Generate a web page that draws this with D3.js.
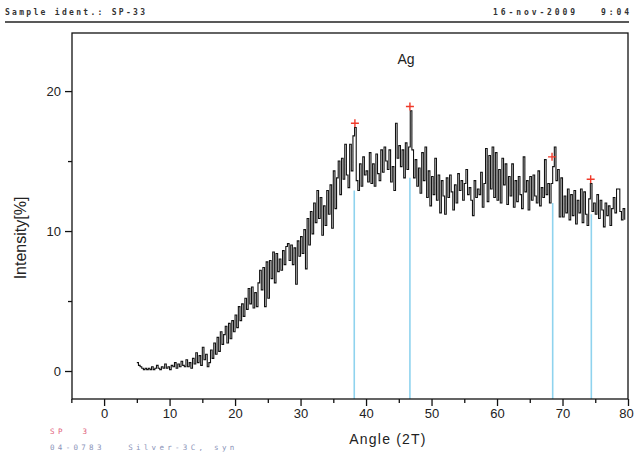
<!DOCTYPE html>
<html>
<head>
<meta charset="utf-8">
<script src="https://cdnjs.cloudflare.com/ajax/libs/d3/7.8.5/d3.min.js"></script>
<style>
  body { margin: 0; background: #fff; }
  svg { display: block; }
  text { white-space: pre; }
</style>
</head>
<body>
<svg id="chart"></svg>
<script>
const width = 634;
const height = 452;
const margin = { top: 33, right: 6, bottom: 53, left: 72 };

// scan: start angle, step and intensity values
const startAngle = 5;
const step = 0.25;
const intensity = [
  0.6, 0.4, 0.3, 0.2,   0.1, 0.2, 0.1, 0.2,   0.1, 0.3, 0.1, 0.2,   0.4, 0.2, 0.1, 0.3,
  0.2, 0.5, 0.2, 0.3,   0.1, 0.4, 0.3, 0.6,   0.2, 0.5, 0.3, 0.7,   0.4, 0.3, 0.8, 0.3,
  0.6, 0.2, 0.9, 0.5,   1.3, 0.6, 1.1, 0.4,   1.7, 0.8, 1.2, 0.3,   0.6, 1.5, 0.9, 2.0,
  1.2, 2.4, 1.4, 2.8,   1.9, 2.6, 3.2, 2.0,   3.4, 2.3, 3.6, 2.8,   4.0, 3.1, 4.6, 3.6,
  4.8, 3.9, 5.2, 4.4,   5.9, 4.8, 6.0, 4.5,   5.6, 4.6, 6.3, 7.2,   5.8, 7.4, 4.6, 7.8,
  5.2, 7.9, 6.6, 8.5,   6.3, 8.4, 7.1, 8.0,   7.2, 8.6, 7.6, 8.9,   9.1, 7.9, 9.0, 7.6,
  8.8, 6.2, 9.3, 8.2,   9.6, 8.4, 10.1, 7.3,  10.9, 9.0, 11.4, 9.8, 12.0, 10.6, 12.9, 10.9,
  12.4, 9.7, 11.8, 10.4, 12.9, 11.2, 13.3, 10.2, 14.3, 11.6, 13.8, 15.0, 12.6, 15.2, 13.7, 16.2,
  14.0, 13.1, 16.2, 14.3, 16.8, 17.4, 13.6, 12.9, 14.8, 13.2, 15.3, 14.0, 14.3, 13.5, 15.6, 13.4,
  14.8, 13.2, 15.5, 14.1, 13.6, 15.8, 14.2, 16.0, 15.0, 14.4, 15.8, 13.5, 14.6, 12.9, 17.7, 15.2,
  16.1, 14.6, 15.8, 13.8, 16.3, 14.4, 16.0, 18.6, 15.8, 13.8, 15.1, 13.2, 14.5, 12.7, 15.6, 13.6,
  16.0, 12.4, 14.3, 11.8, 13.9, 12.6, 15.2, 12.2, 14.0, 11.3, 13.6, 12.5, 11.2, 13.8, 12.4, 14.0,
  12.8, 11.5, 13.3, 12.0, 14.1, 12.9, 13.6, 12.2, 13.4, 14.4, 12.6, 13.1, 12.2, 11.1, 13.6, 12.4,
  13.0, 12.6, 14.2, 11.7, 13.4, 15.9, 12.1, 15.4, 13.0, 16.0, 12.4, 15.6, 12.2, 14.4, 12.0, 15.2,
  13.3, 14.8, 11.9, 13.9, 12.5, 14.8, 11.7, 13.6, 12.1, 13.9, 12.6, 11.6, 15.3, 12.8, 13.6, 11.5,
  13.9, 12.2, 14.0, 12.5, 12.0, 14.3, 11.8, 13.1, 12.4, 15.1, 12.6, 13.4, 12.0, 13.4, 14.6, 16.0,
  13.6, 14.4, 11.0, 13.8, 11.0, 12.5, 11.3, 13.0, 10.8, 12.6, 11.1, 12.9, 10.5, 12.2, 11.3, 13.0,
  10.6, 12.8, 11.2, 10.4, 12.3, 13.4, 11.4, 12.0, 11.2, 12.6, 10.9, 12.2, 11.5, 10.3, 12.0, 11.1,
  11.8, 10.4, 11.6, 12.4, 11.3, 13.0, 13.0, 11.4, 10.8, 11.6, 10.8
];

// identified peaks (red crosses) and reference sticks (blue lines)
const peakAngles = [38.3, 46.7, 68.4, 74.3];
const peakHeights = [17.7, 18.9, 15.3, 13.7];
const stickAngles = [38.2, 46.7, 68.5, 74.4];
const stickTops = [12.9, 13.8, 12.0, 11.2];

const xTicks = [0, 10, 20, 30, 40, 50, 60, 70, 80];
const xMinor = [-5, 5, 15, 25, 35, 45, 55, 65, 75];
const yTicks = [0, 10, 20];
const yMinor = [5, 15];

const scan = intensity.map((v, i) => ({ angle: startAngle + i * step, value: v }));

const innerW = width - margin.left - margin.right;
const innerH = height - margin.top - margin.bottom;

const svg = d3.select("#chart")
  .attr("width", width)
  .attr("height", height);

const g = svg.append("g")
  .attr("transform", "translate(" + margin.left + "," + margin.top + ")");

const xScale = d3.scaleLinear().domain([-4.9, 80]).range([0, innerW]);
const yScale = d3.scaleLinear().domain([-2.0, 24.15]).range([innerH, 0]);

const mono = "DejaVu Sans Mono, monospace";
const sans = "Liberation Sans, Arial, sans-serif";

// header
svg.append("text")
  .attr("x", 5).attr("y", 15)
  .style("font-family", mono).style("font-size", "8px")
  .style("font-weight", "bold").style("letter-spacing", "2.3px").style("fill", "#333")
  .text("Sample ident.: SP-33");
svg.append("text")
  .attr("x", 632).attr("y", 15).attr("text-anchor", "end")
  .style("font-family", mono).style("font-size", "8px")
  .style("font-weight", "bold").style("letter-spacing", "2.9px").style("fill", "#333")
  .text("16-nov-2009   9:04");
svg.append("line")
  .attr("x1", 5).attr("x2", 629).attr("y1", 22).attr("y2", 22)
  .attr("stroke", "#222").attr("stroke-width", 1.6);

// reference sticks
g.selectAll(".stick")
  .data(stickAngles)
  .enter()
  .append("line")
  .attr("class", "stick")
  .attr("x1", d => xScale(d)).attr("x2", d => xScale(d))
  .attr("y1", innerH)
  .attr("y2", (d, i) => yScale(stickTops[i]))
  .attr("stroke", "#8fd3ee").attr("stroke-width", 1.6);

// the scan
const line = d3.line()
  .x(d => xScale(d.angle))
  .y(d => yScale(d.value))
  .curve(d3.curveStepAfter);

g.append("path")
  .datum(scan)
  .attr("fill", "none")
  .attr("stroke", "#111")
  .attr("stroke-width", 1.1)
  .attr("d", line);

// peak markers
g.selectAll(".peak")
  .data(peakAngles)
  .enter()
  .append("path")
  .attr("class", "peak")
  .attr("d", (d, i) => {
    const cx = xScale(d), cy = yScale(peakHeights[i]);
    return "M" + (cx - 4) + "," + cy + "H" + (cx + 4) + "M" + cx + "," + (cy - 4) + "V" + (cy + 4);
  })
  .attr("stroke", "#f03a2a").attr("stroke-width", 1.4);

// frame
g.append("rect")
  .attr("width", innerW).attr("height", innerH)
  .attr("fill", "none").attr("stroke", "#111").attr("stroke-width", 1.3);

// axes
const xAxis = d3.axisBottom(xScale).tickValues(xTicks).tickSize(7).tickPadding(3);
const xAxisMinor = d3.axisBottom(xScale).tickValues(xMinor).tickSize(4).tickFormat("");
const yAxis = d3.axisLeft(yScale).tickValues(yTicks).tickSize(7).tickPadding(4);
const yAxisMinor = d3.axisLeft(yScale).tickValues(yMinor).tickSize(4).tickFormat("");

function styleAxis(sel) {
  sel.select(".domain").remove();
  sel.selectAll("line").attr("stroke", "#111").attr("stroke-width", 1.3);
  sel.selectAll("text")
    .style("font-family", sans)
    .style("font-size", "13px").style("fill", "#222");
}

const xg = g.append("g").attr("transform", "translate(0," + innerH + ")").call(xAxis).call(styleAxis);
xg.selectAll(".tick").filter(d => d === 80).select("text").attr("dx", "-2px");
g.append("g").attr("transform", "translate(0," + innerH + ")").call(xAxisMinor).call(styleAxis);
g.append("g").call(yAxis).call(styleAxis);
g.append("g").call(yAxisMinor).call(styleAxis);

// labels
svg.append("text")
  .attr("x", 388).attr("y", 444).attr("text-anchor", "middle")
  .style("font-family", sans).style("font-size", "14px")
  .style("letter-spacing", "1.2px").style("fill", "#222")
  .text("Angle (2T)");

svg.append("text")
  .attr("transform", "translate(26,238) rotate(-90)")
  .attr("text-anchor", "middle")
  .style("font-family", sans).style("font-size", "16px")
  .style("fill", "#222")
  .text("Intensity[%]");

svg.append("text")
  .attr("x", 406).attr("y", 64).attr("text-anchor", "middle")
  .style("font-family", sans).style("font-size", "14px")
  .style("fill", "#222")
  .text("Ag");

// pattern info
svg.append("text")
  .attr("x", 50).attr("y", 434)
  .style("font-family", mono).style("font-size", "7.5px")
  .style("letter-spacing", "3.6px").style("fill", "#e0607a")
  .text("SP  3");
svg.append("text")
  .attr("x", 50).attr("y", 450)
  .style("font-family", mono).style("font-size", "7.5px")
  .style("letter-spacing", "3.3px").style("fill", "#8a93b8")
  .text("04-0783   Silver-3C, syn");
</script>
</body>
</html>
